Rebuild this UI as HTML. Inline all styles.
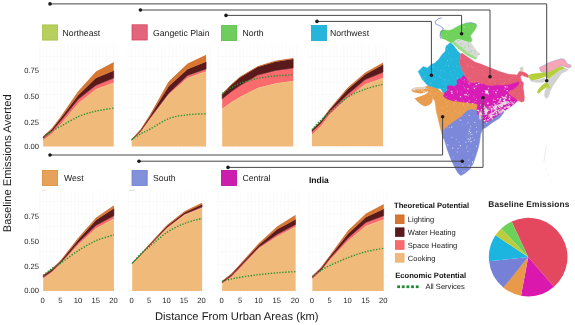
<!DOCTYPE html>
<html><head><meta charset="utf-8"><title>Baseline Emissions Averted</title>
<style>
html,body{margin:0;padding:0;background:#fff;}
body{width:575px;height:325px;overflow:hidden;}
svg{display:block;will-change:transform;text-rendering:geometricPrecision;font-family:"Liberation Sans",Arial,Helvetica,sans-serif;}
.tk{font-size:7.6px;fill:#1c1c1c;}
.lb{font-size:8.7px;fill:#1a1a1a;}
.lg{font-size:7.55px;fill:#1a1a1a;}
.lgb{font-size:7.65px;font-weight:bold;fill:#111;}
.ax{font-size:11.2px;fill:#1a1a1a;}
.ln{fill:none;stroke:#484848;stroke-width:1;}
.gr{stroke:#f6f6f6;stroke-width:0.5;}
</style></head><body>
<svg width="575" height="325" viewBox="0 0 575 325">
<rect width="575" height="325" fill="#fff"/>

<g>
<path class="gr" fill="none" d="M39.7,44.5V149.4M43.2,44.5V149.4M46.7,44.5V149.4M50.2,44.5V149.4M53.8,44.5V149.4M57.3,44.5V149.4M60.8,44.5V149.4M64.3,44.5V149.4M67.9,44.5V149.4M71.4,44.5V149.4M74.9,44.5V149.4M78.5,44.5V149.4M82.0,44.5V149.4M85.5,44.5V149.4M89.0,44.5V149.4M92.6,44.5V149.4M96.1,44.5V149.4M99.6,44.5V149.4M103.1,44.5V149.4M106.7,44.5V149.4M110.2,44.5V149.4M113.7,44.5V149.4M117.2,44.5V149.4M39.7,145.5H117.2M39.7,132.8H117.2M39.7,120.1H117.2M39.7,107.4H117.2M39.7,94.7H117.2M39.7,82.0H117.2M39.7,69.3H117.2M39.7,56.6H117.2"/>
<polygon fill="#F0BA7A" points="43.2,140.4 52.0,133.7 60.8,124.2 78.4,103.2 96.0,89.2 113.7,82.8 113.7,146.4 96.0,146.4 78.4,146.4 60.8,146.4 52.0,146.4 43.2,146.4"/>
<polygon fill="#FB6A6C" points="43.2,138.0 52.0,130.9 60.8,120.8 78.4,99.0 96.0,85.2 113.7,78.1 113.7,82.8 96.0,89.2 78.4,103.2 60.8,124.2 52.0,133.7 43.2,140.4"/>
<polygon fill="#5A1A1C" stroke="#5A1A1C" stroke-width="0.55" stroke-linejoin="round" points="43.2,137.0 52.0,129.2 60.8,118.2 78.4,95.0 96.0,78.1 113.7,70.7 113.7,78.1 96.0,85.2 78.4,99.0 60.8,120.8 52.0,130.9 43.2,138.0"/>
<polygon fill="#D9762F" points="43.2,136.7 52.0,128.5 60.8,117.0 78.4,91.4 96.0,71.9 113.7,62.6 113.7,70.7 96.0,78.1 78.4,95.0 60.8,118.2 52.0,129.2 43.2,137.0"/>
<polyline fill="none" stroke="#F6D286" stroke-width="0.45" points="43.2,140.7 52.0,134.0 60.8,124.5 78.4,103.5 96.0,89.5 113.7,83.1"/>
<polyline fill="none" stroke="#C45A14" stroke-width="0.6" points="43.2,136.7 52.0,128.5 60.8,117.0 78.4,91.4 96.0,71.9 113.7,62.6"/>
<path d="M43.2,137.0 C44.7,136.0 49.1,132.8 52.0,131.0 C54.9,129.2 56.4,128.7 60.8,126.3 C65.2,123.9 72.5,119.1 78.4,116.6 C84.3,114.1 90.1,112.5 96.0,111.1 C101.9,109.7 110.8,108.6 113.7,108.1" fill="none" stroke="#1C9432" stroke-width="1.45" stroke-dasharray="1.3 1.6"/>
</g>
<g>
<path class="gr" fill="none" d="M128.0,44.5V149.6M131.7,44.5V149.6M135.4,44.5V149.6M139.1,44.5V149.6M142.9,44.5V149.6M146.6,44.5V149.6M150.3,44.5V149.6M154.0,44.5V149.6M157.7,44.5V149.6M161.5,44.5V149.6M165.2,44.5V149.6M168.9,44.5V149.6M172.6,44.5V149.6M176.3,44.5V149.6M180.1,44.5V149.6M183.8,44.5V149.6M187.5,44.5V149.6M191.2,44.5V149.6M194.9,44.5V149.6M198.7,44.5V149.6M202.4,44.5V149.6M206.1,44.5V149.6M209.8,44.5V149.6M128.0,145.5H209.8M128.0,132.8H209.8M128.0,120.1H209.8M128.0,107.4H209.8M128.0,94.7H209.8M128.0,82.0H209.8M128.0,69.3H209.8M128.0,56.6H209.8"/>
<polygon fill="#F0BA7A" points="131.7,140.7 141.0,131.7 150.3,119.0 168.9,94.4 187.5,78.1 206.1,71.4 206.1,146.6 187.5,146.6 168.9,146.6 150.3,146.6 141.0,146.6 131.7,146.6"/>
<polygon fill="#FB6A6C" points="131.7,140.2 141.0,130.8 150.3,117.5 168.9,92.9 187.5,75.4 206.1,68.9 206.1,71.4 187.5,78.1 168.9,94.4 150.3,119.0 141.0,131.7 131.7,140.7"/>
<polygon fill="#5A1A1C" stroke="#5A1A1C" stroke-width="0.55" stroke-linejoin="round" points="131.7,139.8 141.0,129.8 150.3,115.8 168.9,85.9 187.5,69.2 206.1,61.8 206.1,68.9 187.5,75.4 168.9,92.9 150.3,117.5 141.0,130.8 131.7,140.2"/>
<polygon fill="#D9762F" points="131.7,139.6 141.0,129.3 150.3,114.8 168.9,81.8 187.5,64.1 206.1,55.2 206.1,61.8 187.5,69.2 168.9,85.9 150.3,115.8 141.0,129.8 131.7,139.8"/>
<polyline fill="none" stroke="#F6D286" stroke-width="0.45" points="131.7,141.0 141.0,132.0 150.3,119.3 168.9,94.7 187.5,78.4 206.1,71.7"/>
<polyline fill="none" stroke="#C45A14" stroke-width="0.6" points="131.7,139.6 141.0,129.3 150.3,114.8 168.9,81.8 187.5,64.1 206.1,55.2"/>
<path d="M131.7,139.6 C133.2,138.6 137.9,135.4 141.0,133.7 C144.1,131.9 145.7,131.5 150.3,129.0 C155.0,126.5 162.7,120.9 168.9,118.5 C175.1,116.1 181.3,115.6 187.5,114.8 C193.7,114.0 203.0,114.0 206.1,113.8" fill="none" stroke="#1C9432" stroke-width="1.45" stroke-dasharray="1.3 1.6"/>
</g>
<g>
<path class="gr" fill="none" d="M218.6,44.5V149.5M222.2,44.5V149.5M225.8,44.5V149.5M229.3,44.5V149.5M232.8,44.5V149.5M236.4,44.5V149.5M239.9,44.5V149.5M243.5,44.5V149.5M247.0,44.5V149.5M250.6,44.5V149.5M254.1,44.5V149.5M257.7,44.5V149.5M261.2,44.5V149.5M264.8,44.5V149.5M268.3,44.5V149.5M271.9,44.5V149.5M275.4,44.5V149.5M279.0,44.5V149.5M282.5,44.5V149.5M286.1,44.5V149.5M289.6,44.5V149.5M293.2,44.5V149.5M296.8,44.5V149.5M218.6,145.5H296.8M218.6,132.8H296.8M218.6,120.1H296.8M218.6,107.4H296.8M218.6,94.7H296.8M218.6,82.0H296.8M218.6,69.3H296.8M218.6,56.6H296.8"/>
<polygon fill="#F0BA7A" points="222.2,108.8 231.1,102.4 240.0,97.0 257.7,88.1 275.5,83.5 293.2,81.0 293.2,146.5 275.5,146.5 257.7,146.5 240.0,146.5 231.1,146.5 222.2,146.5"/>
<polygon fill="#FB6A6C" points="222.2,98.9 231.1,91.7 240.0,85.5 257.7,75.1 275.5,70.4 293.2,68.0 293.2,81.0 275.5,83.5 257.7,88.1 240.0,97.0 231.1,102.4 222.2,108.8"/>
<polygon fill="#5A1A1C" stroke="#5A1A1C" stroke-width="0.55" stroke-linejoin="round" points="222.2,94.4 231.1,85.3 240.0,77.6 257.7,67.1 275.5,61.7 293.2,59.1 293.2,68.0 275.5,70.4 257.7,75.1 240.0,85.5 231.1,91.7 222.2,98.9"/>
<polygon fill="#D9762F" points="222.2,94.1 231.1,84.9 240.0,77.1 257.7,66.6 275.5,61.1 293.2,58.4 293.2,59.1 275.5,61.7 257.7,67.1 240.0,77.6 231.1,85.3 222.2,94.4"/>
<polyline fill="none" stroke="#F6D286" stroke-width="0.45" points="222.2,109.1 231.1,102.7 240.0,97.3 257.7,88.4 275.5,83.8 293.2,81.3"/>
<polyline fill="none" stroke="#C45A14" stroke-width="0.6" points="222.2,94.1 231.1,84.9 240.0,77.1 257.7,66.6 275.5,61.1 293.2,58.4"/>
<path d="M222.2,93.6 C223.7,92.6 228.1,89.5 231.1,87.8 C234.1,86.1 235.6,84.9 240.0,83.3 C244.4,81.7 251.8,79.6 257.7,78.4 C263.6,77.2 269.6,76.5 275.5,75.9 C281.4,75.3 290.2,75.1 293.2,74.9" fill="none" stroke="#1C9432" stroke-width="1.45" stroke-dasharray="1.3 1.6"/>
</g>
<g>
<path class="gr" fill="none" d="M308.4,44.5V149.3M312.0,44.5V149.3M315.6,44.5V149.3M319.1,44.5V149.3M322.6,44.5V149.3M326.2,44.5V149.3M329.8,44.5V149.3M333.3,44.5V149.3M336.9,44.5V149.3M340.4,44.5V149.3M343.9,44.5V149.3M347.5,44.5V149.3M351.1,44.5V149.3M354.6,44.5V149.3M358.1,44.5V149.3M361.7,44.5V149.3M365.2,44.5V149.3M368.8,44.5V149.3M372.4,44.5V149.3M375.9,44.5V149.3M379.4,44.5V149.3M383.0,44.5V149.3M386.6,44.5V149.3M308.4,145.5H386.6M308.4,132.8H386.6M308.4,120.1H386.6M308.4,107.4H386.6M308.4,94.7H386.6M308.4,82.0H386.6M308.4,69.3H386.6M308.4,56.6H386.6"/>
<polygon fill="#F0BA7A" points="312.0,134.8 320.9,126.5 329.7,114.8 347.5,98.0 365.2,84.3 383.0,78.1 383.0,146.3 365.2,146.3 347.5,146.3 329.7,146.3 320.9,146.3 312.0,146.3"/>
<polygon fill="#FB6A6C" points="312.0,131.5 320.9,123.2 329.7,111.5 347.5,94.4 365.2,79.6 383.0,72.2 383.0,78.1 365.2,84.3 347.5,98.0 329.7,114.8 320.9,126.5 312.0,134.8"/>
<polygon fill="#5A1A1C" stroke="#5A1A1C" stroke-width="0.55" stroke-linejoin="round" points="312.0,130.0 320.9,121.6 329.7,109.8 347.5,89.6 365.2,74.4 383.0,64.8 383.0,72.2 365.2,79.6 347.5,94.4 329.7,111.5 320.9,123.2 312.0,131.5"/>
<polygon fill="#D9762F" points="312.0,129.6 320.9,121.1 329.7,109.2 347.5,88.2 365.2,72.9 383.0,63.0 383.0,64.8 365.2,74.4 347.5,89.6 329.7,109.8 320.9,121.6 312.0,130.0"/>
<polyline fill="none" stroke="#F6D286" stroke-width="0.45" points="312.0,135.1 320.9,126.8 329.7,115.1 347.5,98.3 365.2,84.6 383.0,78.4"/>
<polyline fill="none" stroke="#C45A14" stroke-width="0.6" points="312.0,129.6 320.9,121.1 329.7,109.2 347.5,88.2 365.2,72.9 383.0,63.0"/>
<path d="M312.0,129.6 C313.5,128.0 317.9,122.9 320.9,120.1 C323.8,117.2 325.3,116.4 329.7,112.6 C334.1,108.8 341.6,101.2 347.5,97.3 C353.4,93.4 359.3,91.4 365.2,89.2 C371.1,87.0 380.0,85.1 383.0,84.3" fill="none" stroke="#1C9432" stroke-width="1.45" stroke-dasharray="1.3 1.6"/>
</g>
<g>
<path class="gr" fill="none" d="M39.7,190.8V294.0M43.2,190.8V294.0M46.7,190.8V294.0M50.3,190.8V294.0M53.8,190.8V294.0M57.3,190.8V294.0M60.9,190.8V294.0M64.4,190.8V294.0M67.9,190.8V294.0M71.5,190.8V294.0M75.0,190.8V294.0M78.6,190.8V294.0M82.1,190.8V294.0M85.6,190.8V294.0M89.2,190.8V294.0M92.7,190.8V294.0M96.2,190.8V294.0M99.8,190.8V294.0M103.3,190.8V294.0M106.8,190.8V294.0M110.4,190.8V294.0M113.9,190.8V294.0M117.4,190.8V294.0M39.7,289.4H117.4M39.7,276.8H117.4M39.7,264.3H117.4M39.7,251.7H117.4M39.7,239.2H117.4M39.7,226.6H117.4M39.7,214.1H117.4M39.7,201.5H117.4"/>
<polygon fill="#F0BA7A" points="43.2,278.7 52.0,272.4 60.9,263.5 78.5,244.6 96.2,228.3 113.9,218.7 113.9,291.0 96.2,291.0 78.5,291.0 60.9,291.0 52.0,291.0 43.2,291.0"/>
<polygon fill="#FB6A6C" points="43.2,277.0 52.0,271.0 60.9,262.5 78.5,242.3 96.2,225.3 113.9,215.7 113.9,218.7 96.2,228.3 78.5,244.6 60.9,263.5 52.0,272.4 43.2,278.7"/>
<polygon fill="#5A1A1C" stroke="#5A1A1C" stroke-width="0.55" stroke-linejoin="round" points="43.2,275.6 52.0,269.5 60.9,261.0 78.5,239.4 96.2,220.1 113.9,208.6 113.9,215.7 96.2,225.3 78.5,242.3 60.9,262.5 52.0,271.0 43.2,277.0"/>
<polygon fill="#D9762F" points="43.2,275.3 52.0,269.2 60.9,260.5 78.5,237.9 96.2,217.9 113.9,205.7 113.9,208.6 96.2,220.1 78.5,239.4 60.9,261.0 52.0,269.5 43.2,275.6"/>
<polyline fill="none" stroke="#F6D286" stroke-width="0.45" points="43.2,279.0 52.0,272.7 60.9,263.8 78.5,244.9 96.2,228.6 113.9,219.0"/>
<polyline fill="none" stroke="#C45A14" stroke-width="0.6" points="43.2,275.3 52.0,269.2 60.9,260.5 78.5,237.9 96.2,217.9 113.9,205.7"/>
<path d="M43.2,275.3 C44.7,274.2 49.1,270.5 52.0,268.4 C55.0,266.4 56.5,266.0 60.9,263.0 C65.3,260.0 72.6,254.2 78.5,250.5 C84.4,246.8 90.3,243.2 96.2,240.6 C102.1,238.0 111.0,235.8 113.9,234.9" fill="none" stroke="#1C9432" stroke-width="1.45" stroke-dasharray="1.3 1.6"/>
</g>
<g>
<path class="gr" fill="none" d="M128.7,190.8V294.0M132.2,190.8V294.0M135.7,190.8V294.0M139.2,190.8V294.0M142.7,190.8V294.0M146.2,190.8V294.0M149.7,190.8V294.0M153.2,190.8V294.0M156.7,190.8V294.0M160.2,190.8V294.0M163.7,190.8V294.0M167.1,190.8V294.0M170.6,190.8V294.0M174.1,190.8V294.0M177.6,190.8V294.0M181.1,190.8V294.0M184.6,190.8V294.0M188.1,190.8V294.0M191.6,190.8V294.0M195.1,190.8V294.0M198.6,190.8V294.0M202.1,190.8V294.0M205.6,190.8V294.0M128.7,289.4H205.6M128.7,276.8H205.6M128.7,264.3H205.6M128.7,251.7H205.6M128.7,239.2H205.6M128.7,226.6H205.6M128.7,214.1H205.6M128.7,201.5H205.6"/>
<polygon fill="#F0BA7A" points="132.2,264.2 140.9,255.5 149.7,246.0 167.1,228.3 184.6,215.0 202.1,208.0 202.1,291.0 184.6,291.0 167.1,291.0 149.7,291.0 140.9,291.0 132.2,291.0"/>
<polygon fill="#FB6A6C" points="132.2,263.6 140.9,254.8 149.7,245.2 167.1,227.2 184.6,213.9 202.1,206.8 202.1,208.0 184.6,215.0 167.1,228.3 149.7,246.0 140.9,255.5 132.2,264.2"/>
<polygon fill="#5A1A1C" stroke="#5A1A1C" stroke-width="0.55" stroke-linejoin="round" points="132.2,263.2 140.9,254.3 149.7,244.6 167.1,226.0 184.6,212.5 202.1,204.6 202.1,206.8 184.6,213.9 167.1,227.2 149.7,245.2 140.9,254.8 132.2,263.6"/>
<polygon fill="#D9762F" points="132.2,263.0 140.9,254.0 149.7,244.2 167.1,225.3 184.6,211.6 202.1,203.1 202.1,204.6 184.6,212.5 167.1,226.0 149.7,244.6 140.9,254.3 132.2,263.2"/>
<polyline fill="none" stroke="#F6D286" stroke-width="0.45" points="132.2,264.5 140.9,255.8 149.7,246.3 167.1,228.6 184.6,215.3 202.1,208.3"/>
<polyline fill="none" stroke="#C45A14" stroke-width="0.6" points="132.2,263.0 140.9,254.0 149.7,244.2 167.1,225.3 184.6,211.6 202.1,203.1"/>
<path d="M132.2,263.0 C133.7,261.5 138.0,256.5 140.9,253.8 C143.9,251.0 145.3,250.1 149.7,246.5 C154.1,242.9 161.3,236.2 167.1,232.3 C172.9,228.5 178.8,225.7 184.6,223.4 C190.4,221.1 199.2,219.2 202.1,218.4" fill="none" stroke="#1C9432" stroke-width="1.45" stroke-dasharray="1.3 1.6"/>
</g>
<g>
<path class="gr" fill="none" d="M218.5,190.8V294.0M222.2,190.8V294.0M225.9,190.8V294.0M229.5,190.8V294.0M233.2,190.8V294.0M236.9,190.8V294.0M240.6,190.8V294.0M244.2,190.8V294.0M247.9,190.8V294.0M251.6,190.8V294.0M255.2,190.8V294.0M258.9,190.8V294.0M262.6,190.8V294.0M266.2,190.8V294.0M269.9,190.8V294.0M273.6,190.8V294.0M277.2,190.8V294.0M280.9,190.8V294.0M284.6,190.8V294.0M288.3,190.8V294.0M291.9,190.8V294.0M295.6,190.8V294.0M299.3,190.8V294.0M218.5,289.4H299.3M218.5,276.8H299.3M218.5,264.3H299.3M218.5,251.7H299.3M218.5,239.2H299.3M218.5,226.6H299.3M218.5,214.1H299.3M218.5,201.5H299.3"/>
<polygon fill="#F0BA7A" points="222.2,283.8 231.4,277.2 240.6,267.9 258.9,248.5 277.3,236.4 295.6,226.8 295.6,291.0 277.3,291.0 258.9,291.0 240.6,291.0 231.4,291.0 222.2,291.0"/>
<polygon fill="#FB6A6C" points="222.2,282.5 231.4,275.7 240.6,266.0 258.9,247.0 277.3,234.2 295.6,224.6 295.6,226.8 277.3,236.4 258.9,248.5 240.6,267.9 231.4,277.2 222.2,283.8"/>
<polygon fill="#5A1A1C" stroke="#5A1A1C" stroke-width="0.55" stroke-linejoin="round" points="222.2,281.5 231.4,274.4 240.6,264.5 258.9,245.0 277.3,229.3 295.6,219.4 295.6,224.6 277.3,234.2 258.9,247.0 240.6,266.0 231.4,275.7 222.2,282.5"/>
<polygon fill="#D9762F" points="222.2,281.2 231.4,274.0 240.6,263.9 258.9,243.5 277.3,226.8 295.6,215.3 295.6,219.4 277.3,229.3 258.9,245.0 240.6,264.5 231.4,274.4 222.2,281.5"/>
<polyline fill="none" stroke="#F6D286" stroke-width="0.45" points="222.2,284.1 231.4,277.5 240.6,268.2 258.9,248.8 277.3,236.7 295.6,227.1"/>
<polyline fill="none" stroke="#C45A14" stroke-width="0.6" points="222.2,281.2 231.4,274.0 240.6,263.9 258.9,243.5 277.3,226.8 295.6,215.3"/>
<path d="M222.2,281.2 C223.7,280.8 228.3,279.6 231.4,279.0 C234.5,278.3 236.0,277.9 240.6,277.2 C245.2,276.5 252.8,275.3 258.9,274.6 C265.0,273.9 271.2,273.3 277.3,272.8 C283.4,272.3 292.6,271.8 295.6,271.6" fill="none" stroke="#1C9432" stroke-width="1.45" stroke-dasharray="1.3 1.6"/>
</g>
<g>
<path class="gr" fill="none" d="M308.8,190.8V294.0M312.4,190.8V294.0M316.0,190.8V294.0M319.5,190.8V294.0M323.1,190.8V294.0M326.7,190.8V294.0M330.2,190.8V294.0M333.8,190.8V294.0M337.4,190.8V294.0M340.9,190.8V294.0M344.5,190.8V294.0M348.0,190.8V294.0M351.6,190.8V294.0M355.2,190.8V294.0M358.7,190.8V294.0M362.3,190.8V294.0M365.9,190.8V294.0M369.4,190.8V294.0M373.0,190.8V294.0M376.6,190.8V294.0M380.1,190.8V294.0M383.7,190.8V294.0M387.3,190.8V294.0M308.8,289.4H387.3M308.8,276.8H387.3M308.8,264.3H387.3M308.8,251.7H387.3M308.8,239.2H387.3M308.8,226.6H387.3M308.8,214.1H387.3M308.8,201.5H387.3"/>
<polygon fill="#F0BA7A" points="312.4,279.3 321.3,271.2 330.2,259.8 348.1,240.9 365.9,226.1 383.7,219.4 383.7,291.0 365.9,291.0 348.1,291.0 330.2,291.0 321.3,291.0 312.4,291.0"/>
<polygon fill="#FB6A6C" points="312.4,277.5 321.3,269.4 330.2,258.0 348.1,237.9 365.9,222.4 383.7,215.7 383.7,219.4 365.9,226.1 348.1,240.9 330.2,259.8 321.3,271.2 312.4,279.3"/>
<polygon fill="#5A1A1C" stroke="#5A1A1C" stroke-width="0.55" stroke-linejoin="round" points="312.4,276.4 321.3,268.0 330.2,256.2 348.1,233.8 365.9,217.2 383.7,209.0 383.7,215.7 365.9,222.4 348.1,237.9 330.2,258.0 321.3,269.4 312.4,277.5"/>
<polygon fill="#D9762F" points="312.4,276.1 321.3,267.5 330.2,255.4 348.1,230.9 365.9,213.9 383.7,204.6 383.7,209.0 365.9,217.2 348.1,233.8 330.2,256.2 321.3,268.0 312.4,276.4"/>
<polyline fill="none" stroke="#F6D286" stroke-width="0.45" points="312.4,279.6 321.3,271.5 330.2,260.1 348.1,241.2 365.9,226.4 383.7,219.7"/>
<polyline fill="none" stroke="#C45A14" stroke-width="0.6" points="312.4,276.1 321.3,267.5 330.2,255.4 348.1,230.9 365.9,213.9 383.7,204.6"/>
<path d="M312.4,276.4 C313.9,275.4 318.3,272.1 321.3,270.2 C324.3,268.4 325.7,267.5 330.2,265.4 C334.7,263.3 342.2,259.9 348.1,257.6 C354.1,255.3 360.0,253.2 365.9,251.7 C371.8,250.1 380.7,248.9 383.7,248.3" fill="none" stroke="#1C9432" stroke-width="1.45" stroke-dasharray="1.3 1.6"/>
</g>
<text class="tk" x="39" y="73.1" text-anchor="end">0.75</text>
<text class="tk" x="39" y="99.1" text-anchor="end">0.50</text>
<text class="tk" x="39" y="124.7" text-anchor="end">0.25</text>
<text class="tk" x="39" y="149.3" text-anchor="end">0.00</text>
<text class="tk" x="39" y="219.3" text-anchor="end">0.75</text>
<text class="tk" x="39" y="244.3" text-anchor="end">0.50</text>
<text class="tk" x="39" y="269.2" text-anchor="end">0.25</text>
<text class="tk" x="39" y="292.9" text-anchor="end">0.00</text>
<text class="tk" x="42.7" y="303.2" text-anchor="middle">0</text>
<text class="tk" x="60.4" y="303.2" text-anchor="middle">5</text>
<text class="tk" x="78.0" y="303.2" text-anchor="middle">10</text>
<text class="tk" x="95.7" y="303.2" text-anchor="middle">15</text>
<text class="tk" x="113.4" y="303.2" text-anchor="middle">20</text>
<text class="tk" x="131.7" y="303.2" text-anchor="middle">0</text>
<text class="tk" x="149.2" y="303.2" text-anchor="middle">5</text>
<text class="tk" x="166.6" y="303.2" text-anchor="middle">10</text>
<text class="tk" x="184.1" y="303.2" text-anchor="middle">15</text>
<text class="tk" x="201.6" y="303.2" text-anchor="middle">20</text>
<text class="tk" x="221.7" y="303.2" text-anchor="middle">0</text>
<text class="tk" x="240.1" y="303.2" text-anchor="middle">5</text>
<text class="tk" x="258.4" y="303.2" text-anchor="middle">10</text>
<text class="tk" x="276.8" y="303.2" text-anchor="middle">15</text>
<text class="tk" x="295.1" y="303.2" text-anchor="middle">20</text>
<text class="tk" x="311.9" y="303.2" text-anchor="middle">0</text>
<text class="tk" x="329.7" y="303.2" text-anchor="middle">5</text>
<text class="tk" x="347.6" y="303.2" text-anchor="middle">10</text>
<text class="tk" x="365.4" y="303.2" text-anchor="middle">15</text>
<text class="tk" x="383.2" y="303.2" text-anchor="middle">20</text>
<text class="ax" transform="translate(11,163.3) rotate(-90)" text-anchor="middle">Baseline Emissions Averted</text>
<text class="ax" x="236.8" y="320" text-anchor="middle">Distance From Urban Areas (km)</text>
<rect x="42.4" y="24.9" width="15.2" height="15.2" fill="#B7CF5C" stroke="#A9C248" stroke-width="0.8"/>
<text class="lb" x="62.6" y="35.8">Northeast</text>
<rect x="132.0" y="24.799999999999997" width="15.2" height="15.2" fill="#E2657C" stroke="#D9455F" stroke-width="0.8"/>
<text class="lb" x="153" y="35.7">Gangetic Plain</text>
<rect x="221.4" y="25.4" width="15.2" height="15.2" fill="#6FCD5E" stroke="#5BC04A" stroke-width="0.8"/>
<text class="lb" x="242.4" y="36.3">North</text>
<rect x="311.4" y="25.4" width="15.2" height="15.2" fill="#27B6DB" stroke="#1FA9CE" stroke-width="0.8"/>
<text class="lb" x="330" y="36.3">Northwest</text>
<rect x="42.4" y="170.4" width="15.2" height="15.2" fill="#E6A25A" stroke="#DB8B3A" stroke-width="0.8"/>
<text class="lb" x="64" y="181.3">West</text>
<rect x="132.0" y="170.4" width="15.2" height="15.2" fill="#8391DA" stroke="#6F7FD0" stroke-width="0.8"/>
<text class="lb" x="153" y="181.3">South</text>
<rect x="221.4" y="170.4" width="15.2" height="15.2" fill="#CB1DAE" stroke="#B8109B" stroke-width="0.8"/>
<text class="lb" x="242.4" y="181.3">Central</text>
<text x="309" y="183" style="font-size:8.5px;font-weight:bold;fill:#111">India</text>
<path d="M42.3,190.3H46M128.9,190.3H135" stroke="#d9d9d9" stroke-width="0.9" fill="none"/>
<path d="M546.3,145.7L545,154L543.8,162.3" stroke="#e2e2e2" stroke-width="0.7" fill="none"/>
<path d="M545.4,169h0.8v0.8h-0.8zM548.2,174.5h0.8v0.8h-0.8zM550.4,180.6h0.8v0.8h-0.8z" fill="#dcdcdc"/>
<g stroke-linejoin="round">
<polygon points="411.3,89.8 413.3,88.0 417.5,87.5 421.7,87.5 425.9,86.6 427.9,85.6 428.6,90.2 427.3,91.2 424.5,92.8 420.3,93.5 415.4,92.8 412.0,91.4" fill="#E89C50"/>
<polygon points="411.3,89.8 414.7,87.7 420.3,87.5 425.9,86.6 426.0,88.3 421.0,89.3 416.0,89.8 413.0,90.6" fill="#DED2C6"/>
<path d="M420.6,88.5h0.6v0.6h-0.6zM412.9,89.0h1.1v1.1h-1.1zM422.2,93.1h0.9v0.9h-0.9zM413.3,88.0h1.1v1.1h-1.1zM414.4,90.2h1.0v1.0h-1.0zM417.7,89.9h0.6v0.6h-0.6zM423.1,89.0h0.8v0.8h-0.8zM421.4,89.2h0.8v0.8h-0.8zM425.0,91.1h0.7v0.7h-0.7zM421.2,89.7h1.1v1.1h-1.1zM423.9,87.9h1.2v1.2h-1.2zM413.3,88.9h1.1v1.1h-1.1zM413.9,89.5h0.6v0.6h-0.6zM422.9,91.6h0.9v0.9h-0.9zM426.4,88.1h1.0v1.0h-1.0zM421.6,90.2h0.9v0.9h-0.9zM419.5,90.8h0.6v0.6h-0.6zM423.4,90.7h1.2v1.2h-1.2z" fill="#E4E4E4" opacity="0.9"/>
<polygon points="414.7,98.2 418.9,96.8 424.5,94.7 427.9,92.6 431.4,94.0 432.8,98.2 432.1,102.3 429.3,105.1 425.2,106.5 421.7,105.1 418.2,102.3 416.1,100.3" fill="#E89C50"/>
<polygon points="427.9,85.6 432.8,87.0 437.7,88.4 441.2,91.9 444.5,93.5 448.0,95.0 455.0,97.0 465.0,98.0 476.0,99.0 480.0,104.0 480.0,110.0 480.0,115.0 477.2,117.5 475.9,112.8 471.8,111.4 467.6,112.1 464.8,114.9 462.0,118.3 458.5,120.4 452.6,124.6 447.4,128.1 443.9,129.8 443.0,137.7 441.2,131.6 439.1,122.9 437.7,116.9 436.3,111.4 435.6,105.8 434.9,100.9 432.8,98.2 431.4,94.0 427.9,92.6" fill="#E89C50" stroke="#E89C50" stroke-width="0.5"/>
<polygon points="443.0,137.7 443.9,129.8 447.4,126.5 452.6,122.6 458.5,118.4 462.0,116.0 464.8,113.0 467.6,110.5 471.8,109.5 475.9,110.5 480.0,109.0 486.0,112.0 494.0,110.0 503.0,107.0 505.5,110.2 502.5,114.2 499.6,118.1 492.5,122.5 485.5,127.7 482.7,128.8 480.5,134.4 479.6,141.8 478.0,149.1 475.6,156.5 473.4,162.9 470.5,168.6 465.4,173.0 460.8,175.6 458.0,173.0 455.2,168.2 450.8,159.0 447.1,149.1 444.3,139.5" fill="#7C88DA" stroke="#7C88DA" stroke-width="0.5"/>
<polygon points="450.4,42.6 453.5,45.6 457.2,50.5 460.6,54.0 459.9,58.2 459.2,62.3 460.6,65.8 462.0,70.0 464.1,73.5 466.0,78.0 462.0,82.0 458.0,86.0 452.0,89.0 447.0,92.0 443.5,93.0 440.4,88.4 437.7,88.4 432.8,87.0 427.9,85.6 422.4,79.7 420.3,75.6 418.2,71.4 423.1,66.5 427.3,67.9 431.4,64.4 434.9,63.0 439.1,58.9 441.9,54.7 445.3,51.2 446.0,46.3" fill="#22B5DC" stroke="#22B5DC" stroke-width="0.5"/>
<polygon points="460.6,54.0 462.0,53.3 466.2,56.1 470.4,58.9 475.2,62.3 480.1,63.7 485.0,65.8 490.8,68.1 499.6,71.6 508.3,74.2 517.1,75.1 519.6,71.2 523.5,72.0 526.5,73.5 528.8,75.8 528.1,77.4 525.0,76.6 521.9,75.1 520.4,76.6 521.2,80.5 523.5,82.8 523.0,87.4 523.8,92.0 524.3,97.5 524.0,101.3 521.5,102.0 518.5,100.8 514.6,99.0 510.8,96.0 507.0,93.0 503.0,90.0 500.0,88.0 480.0,86.0 468.0,84.0 464.1,73.5 462.0,70.0 460.6,65.8 459.2,62.3 459.9,58.2" fill="#E65E73" stroke="#E65E73" stroke-width="0.5"/>
<polygon points="461.1,77.9 463.7,75.3 466.3,77.9 468.1,81.9 471.6,83.2 476.8,82.6 482.1,83.7 487.4,85.8 492.6,86.1 497.9,84.9 503.2,85.4 510.0,84.6 515.0,83.0 518.5,81.8 519.0,84.0 516.2,86.9 513.1,89.2 509.2,90.8 507.7,93.1 510.8,95.7 514.6,98.5 517.8,100.6 514.6,103.5 511.1,106.5 506.7,109.5 501.4,113.0 496.1,116.5 490.9,120.0 486.5,122.6 483.0,121.8 481.2,117.4 477.7,113.9 476.8,109.5 477.7,104.2 473.3,103.3 466.3,102.5 459.3,101.6 452.3,100.7 447.0,98.9 443.5,96.3 444.4,92.8 447.9,90.2 447.0,86.7 450.5,84.9 454.0,86.7 457.5,84.0 456.7,80.5 459.3,78.8" fill="#D91CB6" stroke="#D91CB6" stroke-width="0.4"/>
<polygon points="451.9,42.8 453.9,40.5 455.8,39.4 461.9,40.2 466.5,41.7 471.2,42.5 472.7,45.1 475.8,49.7 479.6,53.5 478.1,56.6 475.0,58.9 471.2,57.4 466.5,55.1 462.7,52.0 458.1,48.2 454.2,45.1" fill="#D9D9D9"/>
<polygon points="451.9,42.8 454.2,45.1 458.1,48.2 462.7,52.0 466.5,55.1 471.2,57.4 475.0,58.9 476.5,57.7 472.7,55.5 468.4,52.9 464.2,49.7 460.1,46.2 456.2,43.1 453.9,40.9" fill="#9ADF88"/>
<polygon points="440.4,31.2 443.5,29.7 448.1,30.5 451.9,29.7 455.8,27.4 460.4,25.1 465.0,23.5 471.2,22.8 475.8,24.0 476.5,26.6 475.0,29.7 472.7,32.8 470.4,35.8 471.9,39.7 471.2,42.0 466.5,41.2 461.9,39.7 458.1,38.9 455.8,39.7 453.5,41.2 451.9,42.8 449.6,42.0 445.8,39.7 441.9,38.2 440.4,35.1" fill="#6FD25A" stroke="#6FD25A" stroke-width="0.5"/>
<polygon points="539.2,67.7 543.5,65.5 548.1,63.1 552.7,61.2 557.3,59.7 561.9,58.6 564.7,59.4 566.2,62.0 567.8,64.0 570.8,64.9 571.2,66.8 568.8,68.0 565.8,66.9 562.7,65.8 558.8,66.9 555.0,68.9 551.2,71.1 547.3,72.3 543.5,72.6 540.8,71.4" fill="#F6A6B6" stroke="#7C9AD8" stroke-width="0.4"/>
<polygon points="564.7,67.7 568.8,69.2 566.5,71.2 561.9,73.5 558.8,77.4 555.8,82.0 552.7,86.6 550.4,91.2 548.8,96.6 546.2,98.9 544.2,95.8 544.7,91.2 546.2,87.1 546.8,82.8 545.3,80.5 548.1,78.5 550.4,77.4 553.5,75.1 556.5,72.8 559.6,70.5 563.5,69.2" fill="#D2D2D2"/>
<polygon points="529.6,79.1 535.8,80.0 541.2,79.1 544.2,77.5 545.9,80.5 542.7,82.8 535.8,82.5 530.8,81.5" fill="#D2D2D2"/>
<polygon points="528.8,75.1 531.9,73.8 537.3,73.2 543.5,72.6 547.3,72.3 551.2,71.1 555.0,68.9 558.8,66.9 562.2,66.2 564.7,67.7 563.5,69.2 559.6,70.5 556.5,72.8 553.5,75.1 550.4,77.4 548.1,78.5 545.3,76.6 542.7,77.4 540.4,78.5 535.8,79.7 531.9,80.2 529.3,78.5 528.1,76.6" fill="#B6CF3C"/>
<polygon points="542.7,84.6 545.3,82.8 547.3,82.8 548.8,84.6 549.9,87.7 548.8,88.9 547.3,86.6 545.3,88.2 541.9,90.5 538.8,93.8 537.0,92.3 538.5,88.9" fill="#B6CF3C"/>
<polygon points="519.6,68.2 521.9,66.6 523.5,67.4 523.2,71.2 520.4,71.2" fill="#CFD6C0"/>
<path d="M488.0,87.7h1.0v1.0h-1.0zM451.2,92.5h1.4v1.4h-1.4zM483.7,112.1h0.8v0.8h-0.8zM482.6,92.1h0.6v0.6h-0.6zM500.1,97.9h1.3v1.3h-1.3zM485.4,112.4h1.1v1.1h-1.1zM486.6,108.4h0.7v0.7h-0.7zM485.3,119.1h0.7v0.7h-0.7zM456.9,91.7h0.8v0.8h-0.8zM466.9,92.2h0.9v0.9h-0.9zM495.1,108.1h0.6v0.6h-0.6zM490.8,107.5h0.6v0.6h-0.6zM483.9,106.5h1.3v1.3h-1.3zM501.4,104.5h0.7v0.7h-0.7zM466.5,102.2h0.7v0.7h-0.7zM495.8,107.3h1.1v1.1h-1.1zM485.0,109.3h1.3v1.3h-1.3zM498.0,105.9h1.0v1.0h-1.0zM496.7,89.8h1.0v1.0h-1.0zM499.3,99.2h1.5v1.5h-1.5zM468.5,83.3h0.9v0.9h-0.9zM505.6,95.8h1.0v1.0h-1.0zM467.4,88.3h1.3v1.3h-1.3zM481.1,108.9h0.8v0.8h-0.8zM478.3,83.0h1.1v1.1h-1.1zM491.9,118.3h1.2v1.2h-1.2zM486.0,111.1h1.4v1.4h-1.4zM502.4,97.0h1.0v1.0h-1.0zM493.6,90.1h0.6v0.6h-0.6zM473.8,87.8h1.2v1.2h-1.2zM485.1,119.8h0.8v0.8h-0.8zM491.1,108.1h1.5v1.5h-1.5zM467.6,95.3h0.8v0.8h-0.8zM481.5,115.6h0.6v0.6h-0.6zM496.6,115.2h0.7v0.7h-0.7zM486.8,110.7h0.8v0.8h-0.8zM494.8,105.6h0.9v0.9h-0.9zM497.3,105.1h1.0v1.0h-1.0zM464.2,94.2h1.0v1.0h-1.0zM475.7,84.1h1.2v1.2h-1.2zM506.3,105.2h0.6v0.6h-0.6zM493.7,115.1h1.0v1.0h-1.0zM491.6,105.4h1.1v1.1h-1.1zM492.9,112.8h0.9v0.9h-0.9zM491.4,112.4h1.3v1.3h-1.3zM510.4,101.1h0.9v0.9h-0.9zM478.1,111.4h0.8v0.8h-0.8zM502.9,101.9h0.9v0.9h-0.9zM491.0,108.8h1.4v1.4h-1.4zM502.7,102.1h0.7v0.7h-0.7zM504.5,88.7h0.8v0.8h-0.8zM509.0,102.4h1.4v1.4h-1.4zM485.3,113.0h1.3v1.3h-1.3zM503.3,97.0h1.3v1.3h-1.3zM491.3,112.5h1.1v1.1h-1.1zM469.5,99.9h0.6v0.6h-0.6zM501.7,109.0h0.7v0.7h-0.7zM508.8,98.6h1.4v1.4h-1.4zM486.7,110.6h1.3v1.3h-1.3zM476.2,99.2h0.7v0.7h-0.7zM472.4,103.0h0.9v0.9h-0.9zM509.3,96.1h0.9v0.9h-0.9zM486.9,102.8h1.4v1.4h-1.4zM494.6,100.1h0.9v0.9h-0.9zM483.5,113.9h0.9v0.9h-0.9zM489.8,113.5h0.6v0.6h-0.6zM493.3,108.4h1.4v1.4h-1.4zM498.9,109.0h0.6v0.6h-0.6zM486.5,109.2h1.0v1.0h-1.0zM495.2,91.8h1.4v1.4h-1.4zM508.0,104.0h0.8v0.8h-0.8zM496.6,113.4h1.1v1.1h-1.1zM484.9,111.3h1.2v1.2h-1.2zM494.6,104.1h1.1v1.1h-1.1zM494.9,114.4h0.9v0.9h-0.9zM484.9,113.3h1.4v1.4h-1.4zM502.0,105.2h0.9v0.9h-0.9zM513.1,102.9h0.8v0.8h-0.8zM464.3,87.5h0.7v0.7h-0.7zM500.1,106.0h1.2v1.2h-1.2zM486.1,122.0h1.2v1.2h-1.2zM493.0,111.9h1.5v1.5h-1.5zM500.8,105.7h1.5v1.5h-1.5zM495.5,106.2h1.1v1.1h-1.1zM491.0,110.5h1.2v1.2h-1.2zM483.3,113.8h0.8v0.8h-0.8zM503.8,111.2h1.2v1.2h-1.2zM491.5,115.9h1.0v1.0h-1.0zM503.3,104.5h0.6v0.6h-0.6zM487.2,119.0h1.5v1.5h-1.5zM482.1,114.3h1.3v1.3h-1.3zM500.4,102.0h1.2v1.2h-1.2zM497.2,98.1h1.2v1.2h-1.2zM504.1,103.3h1.4v1.4h-1.4zM485.9,113.2h1.2v1.2h-1.2zM503.0,103.5h0.6v0.6h-0.6zM509.4,98.0h0.7v0.7h-0.7zM481.4,117.4h1.4v1.4h-1.4zM480.4,112.7h1.2v1.2h-1.2zM502.7,108.9h0.8v0.8h-0.8zM495.7,113.8h1.3v1.3h-1.3zM500.2,105.4h1.2v1.2h-1.2zM494.3,110.6h1.3v1.3h-1.3zM504.1,103.2h1.3v1.3h-1.3zM483.6,120.0h1.5v1.5h-1.5zM495.2,108.9h1.3v1.3h-1.3zM505.8,94.5h1.2v1.2h-1.2zM455.7,100.2h0.8v0.8h-0.8zM498.5,110.8h0.9v0.9h-0.9zM487.9,102.6h1.0v1.0h-1.0zM499.9,105.6h1.3v1.3h-1.3zM504.3,107.3h1.5v1.5h-1.5zM497.1,108.0h0.7v0.7h-0.7zM482.5,116.8h1.3v1.3h-1.3zM491.6,112.1h0.7v0.7h-0.7zM494.1,110.9h0.9v0.9h-0.9zM495.7,111.9h1.4v1.4h-1.4zM496.6,104.3h0.7v0.7h-0.7zM489.1,114.3h0.8v0.8h-0.8zM485.4,113.5h1.3v1.3h-1.3zM504.6,100.7h1.3v1.3h-1.3zM491.1,109.6h1.0v1.0h-1.0zM504.2,96.8h0.7v0.7h-0.7zM479.5,114.2h0.7v0.7h-0.7zM487.7,93.2h1.3v1.3h-1.3zM502.8,97.2h1.4v1.4h-1.4zM491.5,108.7h0.7v0.7h-0.7zM512.1,103.6h0.8v0.8h-0.8zM465.5,94.1h1.3v1.3h-1.3zM504.8,97.0h1.2v1.2h-1.2zM506.7,109.2h1.2v1.2h-1.2zM503.5,100.5h1.3v1.3h-1.3zM495.6,110.6h0.8v0.8h-0.8zM488.6,108.2h0.7v0.7h-0.7zM477.1,109.7h1.4v1.4h-1.4zM504.1,107.0h0.6v0.6h-0.6zM487.8,106.6h0.7v0.7h-0.7zM506.7,86.4h1.0v1.0h-1.0zM514.2,101.5h0.8v0.8h-0.8zM478.3,109.9h1.0v1.0h-1.0zM492.8,99.6h1.0v1.0h-1.0zM499.4,100.7h1.0v1.0h-1.0zM489.2,106.1h1.3v1.3h-1.3zM485.9,109.0h0.8v0.8h-0.8zM492.8,99.6h0.8v0.8h-0.8zM511.3,102.3h1.2v1.2h-1.2zM483.1,107.3h1.3v1.3h-1.3zM490.6,108.3h1.3v1.3h-1.3zM483.8,109.6h1.3v1.3h-1.3zM509.7,97.1h0.7v0.7h-0.7zM501.7,96.0h1.0v1.0h-1.0zM497.6,110.0h0.8v0.8h-0.8zM499.7,107.3h0.6v0.6h-0.6zM451.1,90.8h1.3v1.3h-1.3zM487.9,114.5h1.0v1.0h-1.0zM485.9,112.9h1.4v1.4h-1.4zM491.1,113.3h1.1v1.1h-1.1zM497.6,110.7h0.8v0.8h-0.8zM489.0,118.1h1.1v1.1h-1.1zM503.7,107.4h1.0v1.0h-1.0zM508.8,102.4h1.4v1.4h-1.4zM503.2,103.2h0.9v0.9h-0.9zM497.0,105.1h0.7v0.7h-0.7zM512.6,101.8h0.8v0.8h-0.8zM502.8,99.7h1.3v1.3h-1.3zM486.5,109.8h1.5v1.5h-1.5zM480.8,109.4h1.2v1.2h-1.2zM497.8,109.8h1.4v1.4h-1.4zM501.7,105.1h1.4v1.4h-1.4zM495.0,110.5h1.0v1.0h-1.0zM484.8,90.1h0.8v0.8h-0.8zM467.1,102.2h1.0v1.0h-1.0zM498.3,101.4h1.4v1.4h-1.4zM474.7,101.0h0.7v0.7h-0.7zM482.2,119.6h0.7v0.7h-0.7zM507.5,106.0h1.2v1.2h-1.2zM499.6,109.2h0.8v0.8h-0.8zM480.9,113.6h1.4v1.4h-1.4zM505.0,97.7h1.0v1.0h-1.0zM487.5,109.5h1.2v1.2h-1.2zM508.8,105.4h1.4v1.4h-1.4zM491.5,108.1h0.7v0.7h-0.7zM480.0,104.5h0.9v0.9h-0.9zM502.4,102.3h1.0v1.0h-1.0zM505.6,106.2h1.2v1.2h-1.2zM482.0,99.0h1.3v1.3h-1.3zM498.8,106.4h1.1v1.1h-1.1zM459.9,96.0h1.3v1.3h-1.3zM501.4,102.3h0.8v0.8h-0.8zM485.1,110.0h1.4v1.4h-1.4zM503.0,109.5h0.8v0.8h-0.8zM506.2,97.8h1.0v1.0h-1.0zM493.1,106.4h1.0v1.0h-1.0zM492.3,114.7h1.3v1.3h-1.3zM487.9,109.4h1.0v1.0h-1.0zM504.0,98.7h0.7v0.7h-0.7zM504.6,101.7h1.4v1.4h-1.4zM496.1,110.3h1.0v1.0h-1.0zM507.3,107.0h0.7v0.7h-0.7zM497.1,102.8h0.8v0.8h-0.8zM485.0,113.7h1.1v1.1h-1.1zM504.8,102.1h1.4v1.4h-1.4zM490.3,113.6h1.2v1.2h-1.2zM502.4,103.0h0.9v0.9h-0.9zM486.2,122.2h1.0v1.0h-1.0zM492.4,113.2h0.9v0.9h-0.9zM504.0,99.3h1.3v1.3h-1.3zM504.7,86.1h1.4v1.4h-1.4zM495.1,107.7h1.1v1.1h-1.1zM478.7,113.9h0.7v0.7h-0.7zM481.4,111.6h1.0v1.0h-1.0zM503.9,109.9h1.5v1.5h-1.5zM493.9,107.9h1.4v1.4h-1.4zM499.1,104.9h1.0v1.0h-1.0zM483.7,105.5h0.9v0.9h-0.9zM502.6,109.3h0.8v0.8h-0.8zM485.0,111.0h0.6v0.6h-0.6zM493.8,111.4h1.0v1.0h-1.0zM498.8,106.9h1.1v1.1h-1.1zM488.6,109.8h0.9v0.9h-0.9zM500.1,108.2h0.8v0.8h-0.8zM506.6,89.9h1.4v1.4h-1.4zM501.9,109.5h1.4v1.4h-1.4zM503.2,101.9h0.9v0.9h-0.9zM490.5,116.0h0.8v0.8h-0.8zM500.1,103.7h1.5v1.5h-1.5zM479.1,113.7h1.1v1.1h-1.1zM498.4,104.0h1.4v1.4h-1.4zM493.7,102.9h1.0v1.0h-1.0zM496.2,109.8h0.9v0.9h-0.9z" fill="#EAF3E6" opacity="0.9"/>
<rect x="485.2" y="90.4" width="3" height="3.2" fill="#E6F2E2"/>
<g fill="#E4EEE2" opacity="0.75"><ellipse cx="485.8" cy="110.5" rx="1.3" ry="3.2"/><ellipse cx="495.2" cy="106.8" rx="2.6" ry="1.5" transform="rotate(-25 495.2 106.8)"/><ellipse cx="504.8" cy="103.2" rx="4.6" ry="1.5" transform="rotate(-20 504.8 103.2)"/><ellipse cx="501.2" cy="111.6" rx="3.2" ry="1.4" transform="rotate(-30 501.2 111.6)"/><ellipse cx="490.8" cy="116.4" rx="1.5" ry="2.4" transform="rotate(-20 490.8 116.4)"/><ellipse cx="480.2" cy="115.5" rx="1.2" ry="4.2"/><ellipse cx="508.8" cy="107.2" rx="1.8" ry="1.2"/></g>
<path d="M498.5,85.0h0.8v0.8h-0.8zM488.4,112.0h0.6v0.6h-0.6zM499.8,106.0h0.9v0.9h-0.9zM482.5,101.9h1.0v1.0h-1.0zM492.4,106.3h0.8v0.8h-0.8zM480.8,111.1h0.8v0.8h-0.8zM453.2,95.4h0.7v0.7h-0.7zM476.1,101.8h0.7v0.7h-0.7zM473.0,95.5h0.7v0.7h-0.7zM473.3,96.5h0.8v0.8h-0.8zM471.2,86.6h0.5v0.5h-0.5zM465.1,97.3h0.7v0.7h-0.7zM506.7,86.7h0.6v0.6h-0.6zM496.2,113.0h0.7v0.7h-0.7zM472.8,86.3h0.9v0.9h-0.9zM493.8,97.7h0.9v0.9h-0.9zM475.3,87.1h1.0v1.0h-1.0zM460.8,91.5h0.8v0.8h-0.8zM468.0,96.1h0.9v0.9h-0.9zM491.7,91.5h0.5v0.5h-0.5zM456.4,89.8h0.8v0.8h-0.8zM511.5,99.7h0.6v0.6h-0.6zM487.7,88.3h0.9v0.9h-0.9zM455.3,87.7h0.7v0.7h-0.7zM458.0,81.5h0.6v0.6h-0.6zM468.6,94.0h0.9v0.9h-0.9zM474.0,97.8h0.7v0.7h-0.7zM483.2,107.6h0.7v0.7h-0.7zM464.0,81.7h0.9v0.9h-0.9zM478.3,100.2h0.6v0.6h-0.6zM456.9,91.2h0.8v0.8h-0.8zM497.2,95.8h0.5v0.5h-0.5zM463.1,85.3h0.9v0.9h-0.9zM485.0,90.8h0.6v0.6h-0.6zM465.5,88.5h0.7v0.7h-0.7zM463.0,100.3h0.9v0.9h-0.9zM487.7,95.6h0.6v0.6h-0.6zM492.8,92.2h0.9v0.9h-0.9zM465.9,80.1h0.6v0.6h-0.6zM492.0,107.5h0.6v0.6h-0.6zM464.1,79.4h1.0v1.0h-1.0zM469.9,84.1h0.7v0.7h-0.7zM513.8,87.0h0.6v0.6h-0.6zM491.0,106.4h0.8v0.8h-0.8zM461.8,99.6h0.7v0.7h-0.7zM485.3,109.7h0.9v0.9h-0.9zM467.5,82.1h0.8v0.8h-0.8zM495.3,112.9h0.7v0.7h-0.7zM467.6,81.6h0.6v0.6h-0.6zM472.6,101.4h0.8v0.8h-0.8zM450.1,90.9h1.0v1.0h-1.0zM501.3,100.6h0.9v0.9h-0.9zM462.8,79.9h0.9v0.9h-0.9zM467.8,94.6h0.8v0.8h-0.8zM510.0,90.3h0.6v0.6h-0.6zM501.0,108.1h0.7v0.7h-0.7zM469.4,82.6h0.9v0.9h-0.9zM478.3,113.7h0.7v0.7h-0.7zM467.7,99.6h0.9v0.9h-0.9zM495.9,94.4h0.9v0.9h-0.9z" fill="#E87AD4" opacity="0.7"/>
<path d="M454.5,70.6h0.7v0.7h-0.7zM456.5,58.0h0.5v0.5h-0.5zM443.5,70.5h0.8v0.8h-0.8zM437.8,70.7h0.5v0.5h-0.5zM424.8,76.5h0.8v0.8h-0.8zM456.8,77.5h1.0v1.0h-1.0zM429.5,81.9h0.6v0.6h-0.6zM443.6,81.4h0.6v0.6h-0.6zM443.4,88.0h0.9v0.9h-0.9zM437.2,66.7h0.6v0.6h-0.6zM450.7,57.9h0.9v0.9h-0.9zM441.5,82.8h0.7v0.7h-0.7zM460.3,77.1h0.7v0.7h-0.7zM445.1,83.2h0.8v0.8h-0.8zM461.1,78.6h0.7v0.7h-0.7zM434.3,78.6h0.9v0.9h-0.9zM449.2,44.9h0.6v0.6h-0.6zM421.8,71.3h0.7v0.7h-0.7zM430.7,65.2h0.5v0.5h-0.5zM444.9,65.0h0.7v0.7h-0.7zM447.0,60.1h1.0v1.0h-1.0zM463.9,79.2h0.9v0.9h-0.9zM420.9,69.2h0.7v0.7h-0.7zM450.4,70.9h0.8v0.8h-0.8zM432.5,79.6h0.8v0.8h-0.8zM452.3,66.3h0.7v0.7h-0.7zM440.5,73.7h0.6v0.6h-0.6zM459.0,83.7h0.7v0.7h-0.7zM446.8,48.3h0.9v0.9h-0.9zM446.4,84.2h0.5v0.5h-0.5zM444.2,79.5h1.0v1.0h-1.0zM443.8,90.8h0.6v0.6h-0.6zM430.8,70.9h0.7v0.7h-0.7zM445.8,89.7h1.0v1.0h-1.0zM460.1,55.5h0.9v0.9h-0.9zM435.8,71.9h0.6v0.6h-0.6zM452.1,75.5h0.5v0.5h-0.5zM451.5,60.2h0.6v0.6h-0.6zM456.4,65.7h0.9v0.9h-0.9zM443.7,56.5h0.8v0.8h-0.8zM450.2,85.1h0.7v0.7h-0.7zM444.9,85.4h0.6v0.6h-0.6zM443.9,71.6h0.6v0.6h-0.6zM446.5,64.2h0.5v0.5h-0.5zM422.6,78.5h0.6v0.6h-0.6zM430.4,83.3h0.9v0.9h-0.9zM446.8,61.0h0.5v0.5h-0.5zM446.3,92.0h0.6v0.6h-0.6zM421.8,77.6h0.6v0.6h-0.6zM433.3,66.5h0.6v0.6h-0.6zM437.4,77.9h0.7v0.7h-0.7zM456.3,51.9h0.6v0.6h-0.6zM448.2,65.4h1.0v1.0h-1.0zM423.2,80.2h0.8v0.8h-0.8zM447.4,80.8h0.7v0.7h-0.7zM440.8,77.2h0.8v0.8h-0.8zM440.4,70.3h0.9v0.9h-0.9zM448.3,79.8h0.6v0.6h-0.6zM439.1,75.5h0.9v0.9h-0.9zM432.8,66.6h0.9v0.9h-0.9zM448.3,89.5h0.8v0.8h-0.8zM448.4,52.8h0.9v0.9h-0.9zM435.3,73.8h0.8v0.8h-0.8zM430.8,81.9h0.5v0.5h-0.5zM460.4,67.8h0.5v0.5h-0.5zM432.5,73.3h0.9v0.9h-0.9zM436.9,69.0h0.7v0.7h-0.7zM453.4,77.9h0.6v0.6h-0.6zM450.4,74.4h0.7v0.7h-0.7zM423.5,79.2h0.9v0.9h-0.9z" fill="#7FD6EC" opacity="0.7"/>
<path d="M514.1,91.9h0.6v0.6h-0.6zM460.1,57.8h0.9v0.9h-0.9zM516.9,78.4h0.6v0.6h-0.6zM512.9,92.3h0.8v0.8h-0.8zM523.7,100.2h0.5v0.5h-0.5zM481.8,69.9h1.0v1.0h-1.0zM482.6,73.4h0.9v0.9h-0.9zM510.5,81.2h0.7v0.7h-0.7zM466.0,68.5h0.6v0.6h-0.6zM510.1,83.3h0.6v0.6h-0.6zM509.5,93.5h0.8v0.8h-0.8zM475.0,80.8h0.7v0.7h-0.7zM519.4,84.1h1.0v1.0h-1.0zM471.2,66.2h0.8v0.8h-0.8zM463.3,68.0h0.8v0.8h-0.8zM499.4,84.3h0.8v0.8h-0.8zM467.0,64.1h0.8v0.8h-0.8zM477.2,71.9h0.6v0.6h-0.6zM476.2,69.1h0.7v0.7h-0.7zM484.2,69.1h0.5v0.5h-0.5zM517.5,89.3h0.7v0.7h-0.7zM494.1,80.6h0.6v0.6h-0.6zM481.4,83.4h0.8v0.8h-0.8zM502.9,83.5h0.7v0.7h-0.7zM517.5,95.4h1.0v1.0h-1.0zM471.2,70.2h0.6v0.6h-0.6zM519.1,93.2h0.9v0.9h-0.9zM477.3,81.3h0.8v0.8h-0.8zM475.5,71.9h0.6v0.6h-0.6zM468.7,66.8h0.8v0.8h-0.8zM503.5,78.9h0.9v0.9h-0.9zM464.6,70.4h0.9v0.9h-0.9zM474.4,82.1h0.8v0.8h-0.8zM461.1,57.9h0.8v0.8h-0.8zM500.2,79.1h0.7v0.7h-0.7zM488.7,79.6h0.9v0.9h-0.9zM474.3,81.0h0.7v0.7h-0.7zM493.3,74.1h0.9v0.9h-0.9zM490.3,70.7h0.5v0.5h-0.5zM491.9,79.2h0.7v0.7h-0.7zM466.5,76.9h0.5v0.5h-0.5zM471.1,74.9h0.7v0.7h-0.7zM494.0,79.1h0.7v0.7h-0.7zM478.8,70.4h0.7v0.7h-0.7zM510.9,77.3h0.9v0.9h-0.9zM473.5,71.3h0.7v0.7h-0.7zM489.8,81.3h1.0v1.0h-1.0zM503.9,82.3h0.9v0.9h-0.9zM474.7,66.5h0.7v0.7h-0.7zM464.4,73.5h0.9v0.9h-0.9zM508.8,91.9h0.6v0.6h-0.6zM515.9,76.3h0.9v0.9h-0.9zM469.7,77.5h0.5v0.5h-0.5zM469.7,76.7h0.7v0.7h-0.7zM466.7,66.1h1.0v1.0h-1.0zM509.6,78.1h0.8v0.8h-0.8zM519.1,99.8h0.8v0.8h-0.8zM470.7,65.0h0.6v0.6h-0.6zM494.8,81.7h0.7v0.7h-0.7zM509.2,79.5h0.7v0.7h-0.7zM517.2,99.0h1.0v1.0h-1.0zM486.2,75.2h0.6v0.6h-0.6zM468.8,78.0h1.0v1.0h-1.0zM521.1,75.3h0.6v0.6h-0.6zM491.0,78.5h0.9v0.9h-0.9zM472.1,66.9h1.0v1.0h-1.0zM465.2,57.0h0.7v0.7h-0.7zM495.1,79.6h0.5v0.5h-0.5zM499.6,75.0h0.7v0.7h-0.7zM517.0,87.0h0.6v0.6h-0.6zM477.5,84.3h1.0v1.0h-1.0zM512.2,76.3h1.0v1.0h-1.0zM501.7,83.7h0.9v0.9h-0.9zM501.4,83.2h0.9v0.9h-0.9zM474.7,85.1h0.5v0.5h-0.5zM466.6,65.5h0.9v0.9h-0.9zM497.2,70.7h1.0v1.0h-1.0zM484.8,74.5h0.8v0.8h-0.8zM471.8,81.6h0.7v0.7h-0.7zM481.1,82.5h0.9v0.9h-0.9z" fill="#F08A98" opacity="0.7"/>
<path d="M452.2,118.4h0.6v0.6h-0.6zM441.2,112.2h0.8v0.8h-0.8zM453.9,104.1h0.6v0.6h-0.6zM463.3,103.2h0.7v0.7h-0.7zM446.9,126.6h0.8v0.8h-0.8zM439.2,99.0h0.5v0.5h-0.5zM461.2,115.4h1.0v1.0h-1.0zM452.3,112.6h0.6v0.6h-0.6zM446.3,95.9h0.8v0.8h-0.8zM454.4,110.4h1.0v1.0h-1.0zM459.0,119.6h0.8v0.8h-0.8zM430.2,92.1h1.0v1.0h-1.0zM428.3,88.9h0.8v0.8h-0.8zM479.2,113.7h1.0v1.0h-1.0zM453.6,102.6h0.8v0.8h-0.8zM464.9,109.6h0.6v0.6h-0.6zM449.8,122.8h0.6v0.6h-0.6zM441.8,125.8h0.7v0.7h-0.7zM460.2,110.7h0.8v0.8h-0.8zM457.5,112.2h0.9v0.9h-0.9zM453.6,105.6h0.8v0.8h-0.8zM442.6,127.5h0.8v0.8h-0.8zM441.8,129.1h0.8v0.8h-0.8zM441.2,107.0h0.7v0.7h-0.7zM463.6,111.1h0.8v0.8h-0.8zM446.5,121.4h0.8v0.8h-0.8zM453.8,99.1h0.6v0.6h-0.6zM462.8,103.4h1.0v1.0h-1.0zM442.3,112.4h0.6v0.6h-0.6zM467.6,104.6h0.6v0.6h-0.6zM461.6,105.9h0.7v0.7h-0.7zM459.6,113.1h0.9v0.9h-0.9zM474.5,102.6h0.5v0.5h-0.5zM446.9,110.2h1.0v1.0h-1.0zM445.5,102.6h0.9v0.9h-0.9zM468.6,100.7h1.0v1.0h-1.0zM431.0,88.8h0.7v0.7h-0.7zM446.6,105.8h0.9v0.9h-0.9zM455.7,118.4h0.7v0.7h-0.7zM442.3,113.0h0.7v0.7h-0.7zM435.3,93.2h0.8v0.8h-0.8zM469.5,108.1h0.5v0.5h-0.5zM441.5,107.6h0.9v0.9h-0.9zM450.6,107.4h0.7v0.7h-0.7zM455.0,100.2h1.0v1.0h-1.0zM437.8,92.5h0.8v0.8h-0.8zM446.2,123.2h0.5v0.5h-0.5zM463.2,104.6h1.0v1.0h-1.0zM443.5,108.2h0.7v0.7h-0.7zM455.7,100.2h0.8v0.8h-0.8z" fill="#F2BE88" opacity="0.7"/>
<path d="M466.3,142.2h0.6v0.6h-0.6zM471.4,134.1h1.0v1.0h-1.0zM476.9,131.2h0.6v0.6h-0.6zM457.6,148.0h0.9v0.9h-0.9zM465.9,172.3h1.2v1.2h-1.2zM459.8,145.0h1.2v1.2h-1.2zM468.0,141.2h0.7v0.7h-0.7zM455.9,139.1h0.7v0.7h-0.7zM469.3,128.7h1.1v1.1h-1.1zM467.8,138.3h0.9v0.9h-0.9zM460.2,119.7h1.1v1.1h-1.1zM458.6,141.5h0.7v0.7h-0.7zM472.6,153.8h0.6v0.6h-0.6zM461.7,163.3h0.5v0.5h-0.5zM469.0,131.0h1.0v1.0h-1.0zM452.1,147.6h1.2v1.2h-1.2zM452.7,156.8h0.8v0.8h-0.8zM485.7,120.5h0.9v0.9h-0.9zM467.6,122.2h1.0v1.0h-1.0zM466.7,145.7h0.8v0.8h-0.8zM471.0,165.7h1.0v1.0h-1.0zM469.1,139.1h0.6v0.6h-0.6zM475.9,145.7h1.1v1.1h-1.1zM451.4,136.8h0.9v0.9h-0.9zM464.0,170.7h0.7v0.7h-0.7zM462.4,165.2h1.0v1.0h-1.0zM451.2,126.6h1.1v1.1h-1.1zM470.3,138.0h0.8v0.8h-0.8zM470.1,125.8h0.9v0.9h-0.9zM476.0,127.2h0.9v0.9h-0.9zM467.8,165.8h0.6v0.6h-0.6zM479.7,138.5h0.7v0.7h-0.7zM471.4,141.1h0.7v0.7h-0.7zM470.0,131.9h1.2v1.2h-1.2zM469.7,137.3h1.0v1.0h-1.0zM475.9,131.4h1.2v1.2h-1.2zM462.2,170.9h0.8v0.8h-0.8zM473.9,139.6h1.0v1.0h-1.0zM465.7,135.8h0.7v0.7h-0.7zM468.7,165.2h1.2v1.2h-1.2zM474.2,122.0h1.1v1.1h-1.1zM483.0,119.7h0.8v0.8h-0.8zM462.4,124.2h0.6v0.6h-0.6zM484.9,117.3h0.9v0.9h-0.9zM488.2,116.2h1.0v1.0h-1.0zM470.1,134.6h0.7v0.7h-0.7zM491.3,115.1h1.0v1.0h-1.0zM476.0,124.4h0.5v0.5h-0.5zM466.7,124.5h0.6v0.6h-0.6zM447.2,144.3h1.1v1.1h-1.1zM456.8,151.6h1.0v1.0h-1.0zM471.4,127.0h0.5v0.5h-0.5zM477.7,147.9h0.7v0.7h-0.7zM468.4,133.2h1.0v1.0h-1.0zM469.8,148.1h0.5v0.5h-0.5zM465.2,141.6h0.8v0.8h-0.8zM472.2,161.0h0.9v0.9h-0.9zM466.9,138.9h0.6v0.6h-0.6zM467.4,150.8h1.0v1.0h-1.0zM470.2,141.3h1.1v1.1h-1.1zM472.1,162.1h0.8v0.8h-0.8zM468.7,114.9h1.1v1.1h-1.1zM472.3,137.3h0.6v0.6h-0.6zM448.9,127.3h0.7v0.7h-0.7zM468.3,159.6h0.9v0.9h-0.9zM470.4,139.0h0.6v0.6h-0.6zM485.9,116.2h0.9v0.9h-0.9zM468.6,139.2h1.1v1.1h-1.1zM468.5,130.6h1.0v1.0h-1.0zM466.0,147.4h0.9v0.9h-0.9z" fill="#DDE6F2" opacity="0.85"/>
<path d="M463.8,27.5h0.8v0.8h-0.8zM464.5,27.1h0.9v0.9h-0.9zM462.6,30.4h0.8v0.8h-0.8zM467.8,36.4h0.6v0.6h-0.6zM449.0,37.4h0.5v0.5h-0.5zM462.5,31.0h0.9v0.9h-0.9zM449.7,32.4h0.6v0.6h-0.6zM453.6,28.7h1.0v1.0h-1.0zM453.8,33.6h0.6v0.6h-0.6zM470.2,39.2h1.0v1.0h-1.0zM445.1,35.8h0.8v0.8h-0.8zM453.7,37.0h0.6v0.6h-0.6zM462.3,31.1h0.6v0.6h-0.6zM468.4,26.5h0.9v0.9h-0.9zM467.9,31.5h0.7v0.7h-0.7zM465.5,30.2h0.8v0.8h-0.8zM446.3,38.0h0.7v0.7h-0.7zM446.1,34.0h0.9v0.9h-0.9zM465.8,39.4h0.7v0.7h-0.7zM449.9,40.2h0.6v0.6h-0.6zM473.6,25.6h0.7v0.7h-0.7zM470.5,29.0h0.6v0.6h-0.6zM441.1,33.5h0.8v0.8h-0.8zM463.2,26.3h0.9v0.9h-0.9zM471.9,31.2h0.6v0.6h-0.6z" fill="#A8E49A" opacity="0.7"/>
<path d="M467.7,45.2h0.7v0.7h-0.7zM471.5,50.3h0.8v0.8h-0.8zM468.1,43.7h0.9v0.9h-0.9zM468.0,45.4h1.0v1.0h-1.0zM468.3,51.6h1.2v1.2h-1.2zM468.7,54.4h0.7v0.7h-0.7zM476.1,57.5h1.0v1.0h-1.0zM474.8,50.1h0.9v0.9h-0.9zM471.7,54.9h1.2v1.2h-1.2zM463.7,49.9h1.1v1.1h-1.1zM458.4,39.9h1.1v1.1h-1.1zM467.6,42.0h1.0v1.0h-1.0zM470.6,51.1h1.2v1.2h-1.2zM457.5,40.3h1.0v1.0h-1.0zM461.6,47.1h0.9v0.9h-0.9zM471.1,50.5h0.8v0.8h-0.8zM460.2,43.2h1.1v1.1h-1.1zM471.1,46.5h0.7v0.7h-0.7zM468.4,46.0h1.0v1.0h-1.0zM458.1,47.7h1.2v1.2h-1.2zM478.8,53.5h1.2v1.2h-1.2zM473.3,57.3h0.7v0.7h-0.7zM463.9,48.1h0.7v0.7h-0.7zM474.1,50.5h0.8v0.8h-0.8zM474.8,58.1h1.3v1.3h-1.3zM464.1,46.6h1.2v1.2h-1.2zM474.6,52.6h0.8v0.8h-0.8zM454.9,43.0h0.8v0.8h-0.8zM460.6,43.6h1.2v1.2h-1.2zM469.0,49.9h0.8v0.8h-0.8z" fill="#8EDB7A" opacity="0.8"/>
<path d="M441.9,17.8L438.1,18.9L435,21.5L435.8,24L440.4,26.2L443.2,28.2L442.2,31.2L440.4,32.8L440.1,36.6L441.2,38.9" fill="none" stroke="#5F7ADA" stroke-width="0.7"/>
<path d="M465,23.5L471.2,22.5L475.8,24L477.3,26.6" fill="none" stroke="#6F8ADC" stroke-width="0.6"/>
</g>
<path class="ln" d="M50,3.9H546.7V80.8"/>
<circle cx="50" cy="3.9" r="1.8" fill="#1a1a1a"/>
<circle cx="546.7" cy="80.8" r="1.8" fill="#1a1a1a"/>
<path class="ln" d="M140.4,10H490V76.8"/>
<circle cx="140.4" cy="10" r="1.8" fill="#1a1a1a"/>
<circle cx="490" cy="76.8" r="1.8" fill="#1a1a1a"/>
<path class="ln" d="M226,15.4H461.6V33.8"/>
<circle cx="226" cy="15.4" r="1.8" fill="#1a1a1a"/>
<circle cx="461.6" cy="33.8" r="1.8" fill="#1a1a1a"/>
<path class="ln" d="M317,21.4H431.4V75.2"/>
<circle cx="317" cy="21.4" r="1.8" fill="#1a1a1a"/>
<circle cx="431.4" cy="75.2" r="1.8" fill="#1a1a1a"/>
<path class="ln" d="M50,155H442.6V116.7"/>
<circle cx="50" cy="155" r="1.8" fill="#1a1a1a"/>
<circle cx="442.6" cy="116.7" r="1.8" fill="#1a1a1a"/>
<path class="ln" d="M139,161.2H462.3"/>
<circle cx="139" cy="161.2" r="1.8" fill="#1a1a1a"/>
<circle cx="462.3" cy="161.2" r="1.8" fill="#1a1a1a"/>
<path class="ln" d="M228,167.4H483V97.7"/>
<circle cx="228" cy="167.4" r="1.8" fill="#1a1a1a"/>
<circle cx="483" cy="97.7" r="1.8" fill="#1a1a1a"/>
<text class="lgb" x="394" y="208.2">Theoretical Potential</text>
<rect x="395.3" y="214.9" width="8.8" height="8.8" fill="#D9762F" stroke="#C0601C" stroke-width="0.6"/>
<text class="lg" x="407.8" y="222.1">Lighting</text>
<rect x="395.3" y="227.8" width="8.8" height="8.8" fill="#5A1A1C" stroke="#4A1012" stroke-width="0.6"/>
<text class="lg" x="407.8" y="235.0">Water Heating</text>
<rect x="395.3" y="240.6" width="8.8" height="8.8" fill="#FB6A6C" stroke="#F05055" stroke-width="0.6"/>
<text class="lg" x="407.8" y="247.8">Space Heating</text>
<rect x="395.3" y="253.4" width="8.8" height="8.8" fill="#F0BA7A" stroke="#E5A862" stroke-width="0.6"/>
<text class="lg" x="407.8" y="260.6">Cooking</text>
<text class="lgb" x="395.2" y="277.6">Economic Potential</text>
<rect x="397.2" y="285.4" width="2.8" height="2.7" fill="#1C8C2E"/>
<rect x="401.8" y="285.4" width="2.8" height="2.7" fill="#1C8C2E"/>
<rect x="406.5" y="285.4" width="2.8" height="2.7" fill="#1C8C2E"/>
<rect x="411.1" y="285.4" width="2.8" height="2.7" fill="#1C8C2E"/>
<rect x="415.8" y="285.4" width="2.8" height="2.7" fill="#1C8C2E"/>
<text class="lg" x="425.4" y="288.6">All Services</text>
<text x="488.2" y="207.3" style="font-size:8.4px;font-weight:bold;fill:#222;letter-spacing:0.15px">Baseline Emissions</text>
<path d="M528.2,257.1L511.59,221.48A39.3,39.3 0 0 1 553.98,286.76Z" fill="#E3485F"/>
<path d="M528.2,257.1L553.98,286.76A39.3,39.3 0 0 1 521.04,295.74Z" fill="#DA18AE"/>
<path d="M528.2,257.1L521.04,295.74A39.3,39.3 0 0 1 503.20,287.42Z" fill="#E89A4A"/>
<path d="M528.2,257.1L503.41,287.60A39.3,39.3 0 0 1 489.12,261.28Z" fill="#7680D6"/>
<path d="M528.2,257.1L489.12,261.28A39.3,39.3 0 0 1 495.54,235.24Z" fill="#1CB5E0"/>
<path d="M528.2,257.1L495.54,235.24A39.3,39.3 0 0 1 501.30,228.45Z" fill="#BCCC3C"/>
<path d="M528.2,257.1L501.30,228.45A39.3,39.3 0 0 1 511.59,221.48Z" fill="#6BD158"/>
</svg></body></html>
